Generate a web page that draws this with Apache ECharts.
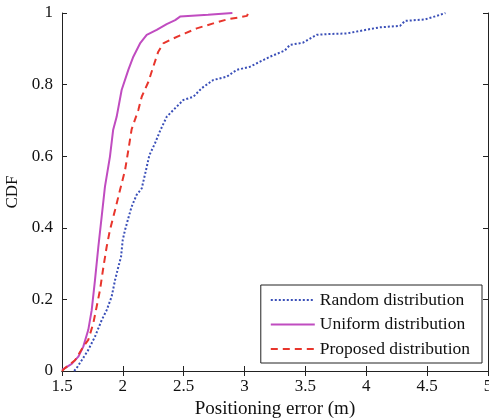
<!DOCTYPE html>
<html>
<head>
<meta charset="utf-8">
<script src="https://cdn.jsdelivr.net/npm/echarts@6/dist/echarts.min.js"></script>
<style>
    html, body { margin: 0; padding: 0; background: #fff; }
    #chart { width: 489px; height: 419px; }
</style>
</head>
<body>
<div id="chart"></div>
<script>
    // 各曲线数据
    var randomX = [1.6, 1.62, 1.662, 1.716, 1.771, 1.826, 1.867, 1.908, 1.936, 1.963, 1.985, 1.999, 2.018, 2.045, 2.072, 2.113, 2.155, 2.19, 2.218, 2.264, 2.305, 2.36, 2.415, 2.497, 2.579, 2.648, 2.743, 2.853, 2.935, 3.045, 3.127, 3.21, 3.33, 3.373, 3.48, 3.593, 3.675, 3.84, 3.95, 4.11, 4.277, 4.318, 4.48, 4.58, 4.65];
    var randomY = [0, 0.008, 0.03, 0.059, 0.096, 0.142, 0.17, 0.208, 0.254, 0.291, 0.319, 0.366, 0.394, 0.427, 0.459, 0.492, 0.51, 0.561, 0.603, 0.636, 0.67, 0.71, 0.729, 0.757, 0.766, 0.79, 0.813, 0.822, 0.841, 0.85, 0.864, 0.878, 0.895, 0.911, 0.917, 0.939, 0.941, 0.943, 0.95, 0.96, 0.964, 0.978, 0.982, 0.992, 1];
    var uniformX = [1.5, 1.58, 1.634, 1.675, 1.716, 1.744, 1.771, 1.798, 1.826, 1.853, 1.894, 1.92, 1.949, 1.99, 2.045, 2.086, 2.141, 2.196, 2.278, 2.36, 2.43, 2.47, 2.7, 2.9];
    var uniformY = [0.003, 0.02, 0.04, 0.068, 0.115, 0.17, 0.254, 0.345, 0.431, 0.515, 0.599, 0.673, 0.71, 0.785, 0.841, 0.878, 0.915, 0.939, 0.953, 0.969, 0.98, 0.99, 0.995, 1];
    var proposedX = [1.5, 1.525, 1.607, 1.675, 1.716, 1.757, 1.785, 1.812, 1.84, 1.867, 1.894, 1.936, 1.977, 2.018, 2.045, 2.072, 2.127, 2.155, 2.21, 2.25, 2.291, 2.332, 2.415, 2.51, 2.607, 2.743, 2.866, 2.96, 3.02, 3.03];
    var proposedY = [0, 0.008, 0.03, 0.068, 0.087, 0.133, 0.18, 0.226, 0.29, 0.347, 0.394, 0.45, 0.506, 0.561, 0.617, 0.675, 0.729, 0.766, 0.808, 0.85, 0.892, 0.915, 0.929, 0.943, 0.957, 0.971, 0.983, 0.988, 0.992, 1];
    var seriesNames = ['Random distribution', 'Uniform distribution', 'Proposed distribution'];
    var xTicks = [1.5, 2, 2.5, 3, 3.5, 4, 4.5, 5];

    function zip(xs, ys) {
        return xs.map(function (x, i) { return [x, ys[i]]; });
    }

    var font = 'Liberation Serif';
    var myEcharts = echarts.init(document.getElementById('chart'));

    // 上边和右边的框线（刻度朝内）
    var boxAxis = {
        axisLine: { show: true, lineStyle: { color: '#222', width: 1 } },
        axisTick: { show: true, inside: true, length: 5, lineStyle: { color: '#222' } },
        axisLabel: { show: false },
        splitLine: { show: false }
    };

    myEcharts.setOption({
        animation: false,
        grid: { left: 62, right: 1, top: 13, bottom: 48, containLabel: false, outerBoundsMode: 'none' },
        xAxis: [{
            type: 'value', min: 1.5, max: 5, interval: 0.5,
            name: 'Positioning error (m)', nameLocation: 'middle', nameGap: 26,
            nameTextStyle: { fontFamily: font, fontSize: 19, color: '#111' },
            axisLine: { lineStyle: { color: '#222' } },
            axisTick: { inside: true, length: 5, lineStyle: { color: '#222' } },
            axisLabel: {
                fontFamily: font, fontSize: 17, color: '#111', margin: 7,
                formatter: function (v) { return xTicks.indexOf(v) >= 0 ? String(v) : ''; }
            },
            splitLine: { show: false }
        }, Object.assign({ type: 'value', min: 1.5, max: 5, interval: 0.5, position: 'top' }, boxAxis)],
        yAxis: [{
            type: 'value', min: 0, max: 1, interval: 0.2,
            name: 'CDF', nameLocation: 'middle', nameGap: 35,
            nameTextStyle: { fontFamily: font, fontSize: 17, color: '#111' },
            axisLine: { show: true, lineStyle: { color: '#222' } },
            axisTick: { show: true, inside: true, length: 5, lineStyle: { color: '#222' } },
            axisLabel: { fontFamily: font, fontSize: 17, color: '#111', margin: 9 },
            splitLine: { show: false }
        }, Object.assign({ type: 'value', min: 0, max: 1, interval: 0.2, position: 'right' }, boxAxis)],
        legend: {
            orient: 'vertical',
            right: 7, bottom: 56,
            itemWidth: 44, itemHeight: 17, itemGap: 6.5,
            padding: [6, 12, 5, 9],
            borderColor: '#222', borderWidth: 1, borderRadius: 0,
            backgroundColor: '#fff',
            itemStyle: { opacity: 0 },
            textStyle: { fontFamily: font, fontSize: 17.5, lineHeight: 17, color: '#111' },
            data: seriesNames
        },
        series: [{
            name: seriesNames[0], type: 'line', showSymbol: false, symbol: 'none',
            lineStyle: { color: '#3a4fb8', width: 2, type: [2, 2] },
            itemStyle: { color: '#3a4fb8' },
            data: zip(randomX, randomY)
        }, {
            name: seriesNames[1], type: 'line', showSymbol: false, symbol: 'none',
            lineStyle: { color: '#c04cc0', width: 2 },
            itemStyle: { color: '#c04cc0' },
            data: zip(uniformX, uniformY)
        }, {
            name: seriesNames[2], type: 'line', showSymbol: false, symbol: 'none',
            lineStyle: { color: '#e8352c', width: 2, type: [7, 5] },
            itemStyle: { color: '#e8352c' },
            data: zip(proposedX, proposedY)
        }]
    });
</script>
</body>
</html>
